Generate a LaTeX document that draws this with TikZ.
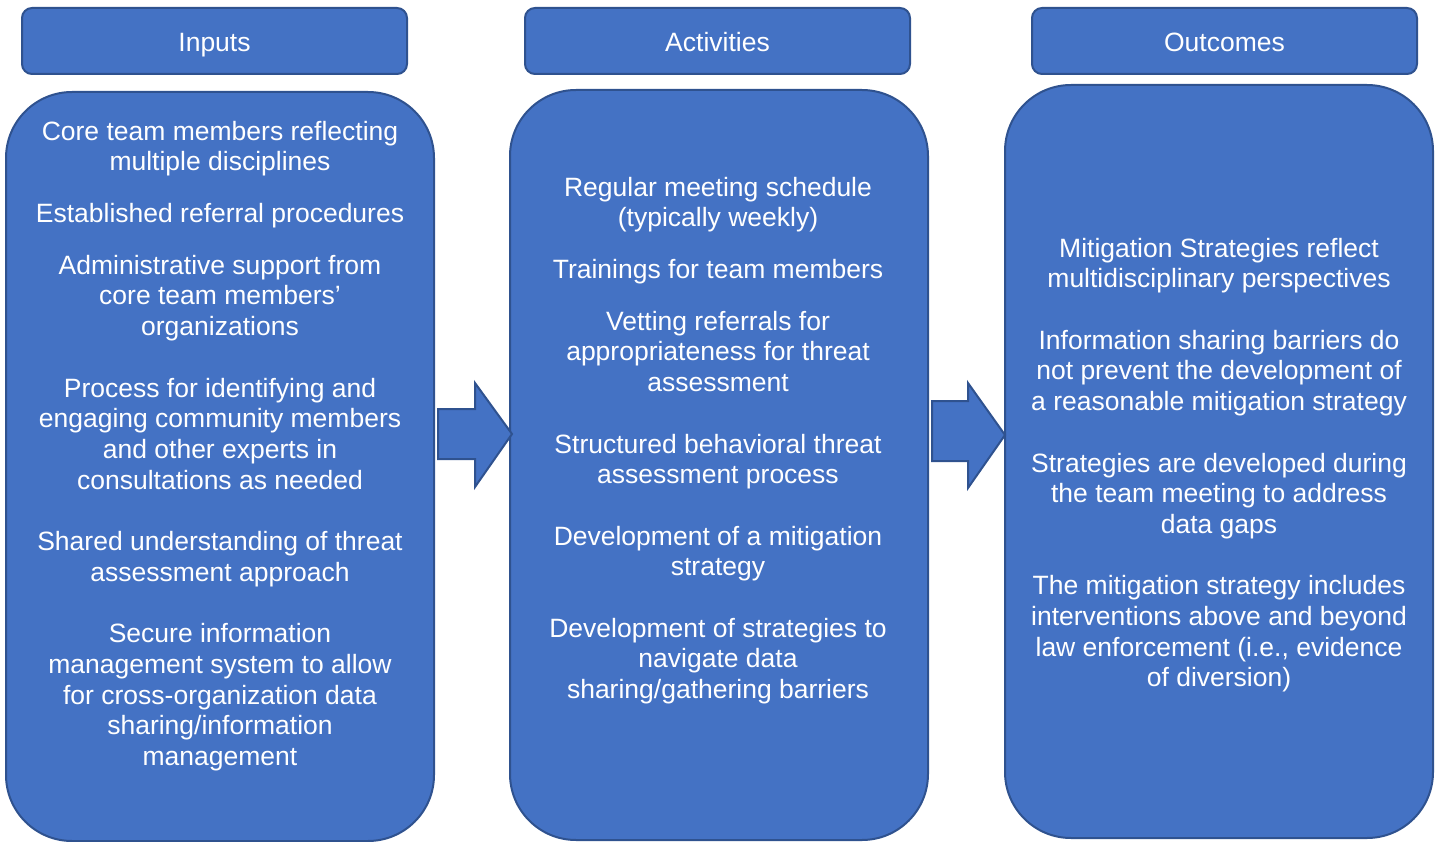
\documentclass[tikz,border=0pt]{standalone}
\usepackage{fontspec}
\setmainfont{Liberation Sans}
\definecolor{boxfill}{HTML}{4472C4}
\definecolor{boxline}{HTML}{2F528F}
\tikzset{
  head/.style={draw=boxline, fill=boxfill, line width=2pt, rounded corners=10pt,
    minimum width=385pt, minimum height=66pt, inner sep=0pt, text=white,
    text height=22pt, text depth=0pt, font=\fontsize{26.5}{30.7}\selectfont},
  bigbox/.style={draw=boxline, fill=boxfill, line width=2pt, rounded corners=66pt,
    inner sep=0pt},
  body/.style={text=white, align=center, inner sep=0pt, anchor=north,
    font=\fontsize{26.5}{30.7}\selectfont},
  blockarrow/.style={draw=boxline, fill=boxfill, line width=2pt, line join=miter}
}
\begin{document}
\begin{tikzpicture}[x=1pt,y=-1pt]
\useasboundingbox (0,0) rectangle (1435,842);
% headers
\node[head] (hin)  at (214.5,41) {Inputs};
\node[head] (hact) at (717.5,41) {Activities};
\node[head] (hout) at (1224.5,41) {Outcomes};
% big boxes
\node[bigbox, minimum width=428pt, minimum height=749pt] (bin)  at (220,466.5) {};
\node[bigbox, minimum width=418pt, minimum height=750pt] (bact) at (719,465) {};
\node[bigbox, minimum width=428pt, minimum height=753pt] (bout) at (1219,461.5) {};
% block arrows
\draw[blockarrow] (438,409) -- (475,409) -- (475,383) -- (512,434) -- (475,487) -- (475,459) -- (438,459) -- cycle;
\draw[blockarrow] (932,401) -- (968,401) -- (968,383) -- (1005,435) -- (968,488) -- (968,461) -- (932,461) -- cycle;
% texts
\node[body] (tin) at (220,118.5) {\strut Core team members reflecting\\multiple disciplines\\[21pt]
Established referral procedures\\[21pt]
Administrative support from\\core team members’\\organizations\\[30.7pt]
Process for identifying and\\engaging community members\\and other experts in\\consultations as needed\\[30.7pt]
Shared understanding of threat\\assessment approach\\[30.7pt]
Secure information\\management system to allow\\for cross-organization data\\sharing/information\\management};
\node[body] (tact) at (718,174.5) {\strut Regular meeting schedule\\(typically weekly)\\[21pt]
Trainings for team members\\[21pt]
Vetting referrals for\\appropriateness for threat\\assessment\\[30.7pt]
Structured behavioral threat\\assessment process\\[30.7pt]
Development of a mitigation\\strategy\\[30.7pt]
Development of strategies to\\navigate data\\sharing/gathering barriers};
\node[body] (tout) at (1219,235.5) {\strut Mitigation Strategies reflect\\multidisciplinary perspectives\\[30.7pt]
Information sharing barriers do\\not prevent the development of\\a reasonable mitigation strategy\\[30.7pt]
Strategies are developed during\\the team meeting to address\\data gaps\\[30.7pt]
The mitigation strategy includes\\interventions above and beyond\\law enforcement (i.e., evidence\\of diversion)};
\end{tikzpicture}
\end{document}
